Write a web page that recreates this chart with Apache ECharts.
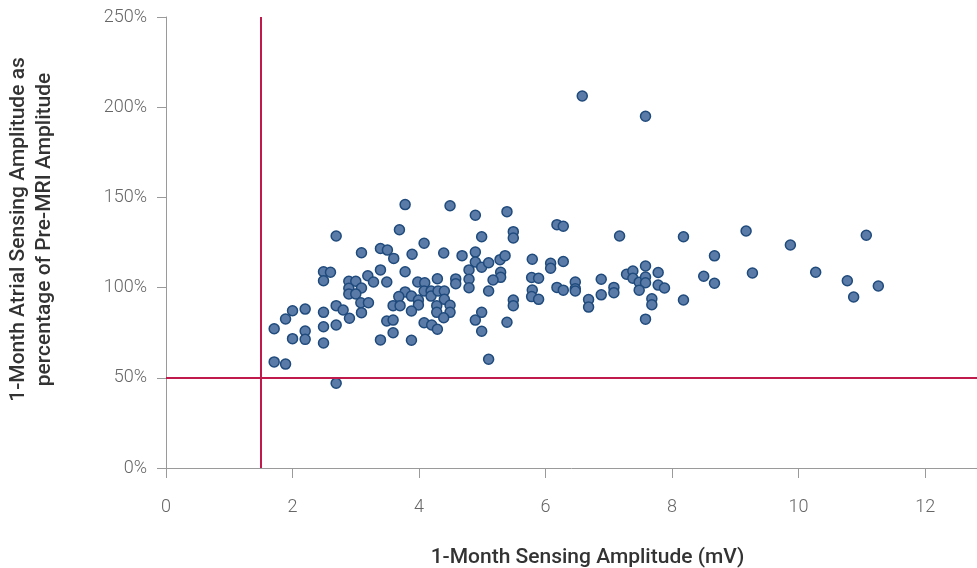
<!DOCTYPE html>
<html>
<head>
<meta charset="utf-8">
<script src="https://cdn.jsdelivr.net/npm/echarts@6/dist/echarts.min.js"></script>
<style>
html,body{margin:0;padding:0;background:#fff;}
#chart{width:977px;height:568px;}
</style>
</head>
<body>
<div id="chart"></div>
<script>
// 1-Month sensing amplitude (mV)
const sensingMV = [
  2.69,3.09,3.39,2.49,2.60,2.49,2.89,3.00,3.19,3.28,3.39,3.49,2.89,3.09,2.89,3.00,3.08,3.20,3.49,2.00,
  2.20,2.49,2.69,2.80,3.09,2.90,1.89,1.71,2.20,2.49,2.69,2.00,2.20,2.49,3.39,1.71,1.89,2.69,
  3.78,4.49,4.89,5.39,3.69,4.99,4.08,3.50,3.60,3.89,4.39,4.68,4.89,4.89,4.99,5.10,5.28,5.36,3.78,4.79,
  5.29,5.29,5.17,3.98,4.09,4.29,4.58,4.58,4.79,4.79,5.10,3.78,3.68,3.88,3.99,4.08,4.19,4.19,4.30,4.40,
  4.40,3.99,4.28,4.49,3.59,3.70,3.88,4.28,4.49,4.39,3.59,4.08,4.20,4.29,4.89,4.99,5.39,3.59,4.99,3.88,5.10,
  5.49,5.49,6.18,6.28,7.17,5.79,6.08,6.08,6.28,5.78,5.89,5.79,5.78,5.89,6.18,6.28,6.47,6.47,6.47,6.88,
  6.88,7.08,7.08,6.68,6.68,5.49,5.49,
  8.18,8.67,7.58,7.28,7.38,7.38,7.48,7.58,7.58,7.78,7.78,7.88,7.48,8.50,8.67,7.68,7.68,8.18,7.58,
  9.17,9.87,9.27,10.27,11.07,10.77,10.87,11.26,
  6.58,7.58
];
// 1-Month atrial sensing amplitude as % of pre-MRI amplitude
const atrialPct = [
  128.6,119.3,121.7,108.8,108.5,103.8,103.5,103.5,106.6,103.1,109.8,103.1,99.6,99.8,96.5,96.5,91.6,91.6,81.5,87.2,
  88.1,86.3,90.0,87.6,86.1,83.0,82.6,77.2,75.9,78.3,79.3,71.7,71.3,69.3,71.0,58.8,57.6,47.0,
  146.0,145.4,140.1,142.1,132.1,128.2,124.6,120.8,116.2,118.5,119.2,117.7,119.7,114.2,111.3,113.8,115.5,117.7,108.8,109.8,
  108.5,105.7,104.2,103.1,102.7,104.9,104.8,102.2,104.6,99.9,98.1,97.6,95.0,95.3,93.1,98.1,98.1,95.3,98.1,98.1,
  93.5,90.4,90.0,90.2,90.0,90.0,87.0,86.3,86.3,83.3,82.0,80.5,79.3,76.9,82.0,86.3,80.8,75.0,75.8,70.8,60.3,
  131.0,127.5,134.9,134.0,128.6,115.7,113.5,110.7,114.5,105.6,105.2,98.7,95.0,93.5,100.1,98.6,103.1,99.4,98.1,104.6,
  96.0,100.1,97.2,93.4,89.2,93.1,90.0,
  128.2,117.6,112.0,107.4,109.2,105.2,103.0,105.9,102.7,108.4,101.4,99.8,98.6,106.3,102.4,93.8,90.5,93.1,82.5,
  131.4,123.6,108.1,108.5,129.0,103.8,94.8,100.9,
  206.2,195.0
];
// reference thresholds
const thresholdMV = 1.5;
const thresholdPct = 50;
const yTicks = [0, 50, 100, 150, 200, 250];
const xTicks = [0, 2, 4, 6, 8, 10, 12];

const points = sensingMV.map((x, i) => [x, atrialPct[i]]);

const chart = echarts.init(document.getElementById('chart'), null, {renderer: 'canvas'});
const axisFont = 'Roboto, "Liberation Sans", sans-serif';
chart.setOption({
  animation: false,
  backgroundColor: '#ffffff',
  grid: {left: 166, right: 0, top: 17, bottom: 100, containLabel: false, outerBoundsMode: 'none'},
  xAxis: {
    type: 'value',
    min: 0,
    max: 12.82,
    interval: 2,
    splitLine: {show: false},
    axisLine: {show: true, lineStyle: {color: '#9a9a9a', width: 1}},
    axisTick: {show: true, length: 10, lineStyle: {color: '#9a9a9a'}},
    axisLabel: {
      margin: 30, color: '#666', fontSize: 18, fontFamily: axisFont, fontWeight: 300,
      formatter: v => xTicks.includes(v) ? String(v) : ''
    },
    name: '1-Month Sensing Amplitude (mV)',
    nameLocation: 'middle',
    nameGap: 79,
    nameTextStyle: {color: '#333', fontSize: 21, fontFamily: axisFont, fontWeight: 500, padding: [0, 0, 0, 32]}
  },
  yAxis: {
    type: 'value',
    min: 0,
    max: 250,
    interval: 50,
    splitLine: {show: false},
    axisLine: {show: true, lineStyle: {color: '#9a9a9a', width: 1}},
    axisTick: {show: true, length: 9, lineStyle: {color: '#9a9a9a'}},
    axisLabel: {
      margin: 19, color: '#666', fontSize: 18, fontFamily: axisFont, fontWeight: 300,
      formatter: v => yTicks.includes(v) ? v + '%' : ''
    },
    name: '1-Month Atrial Sensing Amplitude as\npercentage of Pre-MRI Amplitude',
    nameLocation: 'middle',
    nameGap: 108,
    nameTextStyle: {color: '#333', fontSize: 21, fontFamily: axisFont, fontWeight: 500, lineHeight: 26, padding: [0, 0, 0, 26]}
  },
  series: [
    {
      type: 'scatter',
      data: points,
      symbol: 'circle',
      symbolSize: 10,
      itemStyle: {color: '#5a7ba7', borderColor: '#1f4a7c', borderWidth: 1.5, opacity: 1},
      z: 3,
      markLine: {
        silent: true,
        symbol: ['none', 'none'],
        label: {show: false},
        lineStyle: {color: '#bf1a4b', width: 2, type: 'solid'},
        data: [{xAxis: thresholdMV}, {yAxis: thresholdPct}]
      }
    }
  ]
});
</script>
</body>
</html>
